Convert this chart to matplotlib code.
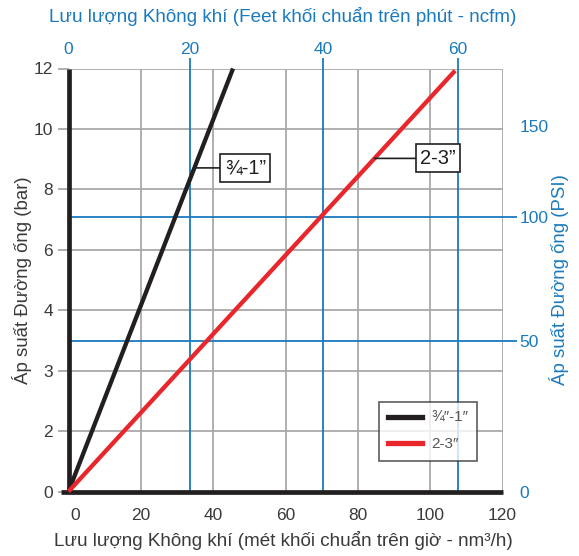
import matplotlib
matplotlib.use('Agg')
import matplotlib.pyplot as plt
import numpy as np
from matplotlib.transforms import ScaledTranslation
from matplotlib.lines import Line2D

FONT = ['Liberation Sans', 'DejaVu Sans']
NARROW = ['Liberation Sans Narrow', 'Liberation Sans', 'DejaVu Sans']
plt.rcParams['font.family'] = FONT

# ---------------- data ----------------
flow_ticks = [0, 20, 40, 60, 80, 100, 120]            # nm3/h (bottom)
pressure_tick_labels = ['0', '2', '3', '4', '6', '8', '10', '12']  # bar (left)
ncfm_labels = ['0', '20', '40', '60']                 # top axis labels
ncfm_pos = [0, 33.5, 70.4, 107.7]                     # position on nm3/h scale
psi_labels = ['0', '50', '100', '150']                # right axis labels
psi_pos = [0, 4.28, 7.80, 10.37]                      # position on bar scale
series_names = ['¾″-1″', '2-3″']
box_names = ['¾-1”', '2-3”']
small_flow = [0, 45.5]
small_pressure = [0, 12]
large_flow = [0, 106.9]
large_pressure = [0, 11.94]

BLACK = '#231f20'
RED = '#e8262b'
BLUE = '#1a7abf'
GRID = '#a9a9a9'
TXT = '#3a3a3a'

fig = plt.figure(figsize=(5.79, 5.56), dpi=100)
ax = fig.add_axes([68.5 / 579, 1 - 491.5 / 556, 434 / 579, 423 / 556])
ax.set_xlim(0, 120)
ax.set_ylim(0, 12)

ytick_pos = np.linspace(0, 12, len(pressure_tick_labels))
ax.set_yticks(ytick_pos, pressure_tick_labels, fontfamily=NARROW)
ax.set_xticks(flow_ticks, [str(v) for v in flow_ticks], fontfamily=NARROW)
ax.tick_params(axis='x', length=0, pad=12, labelsize=12.5, labelcolor=TXT)
ax.tick_params(axis='y', length=8, width=1.3, color=GRID, pad=3, labelsize=12.5, labelcolor=TXT)

# shift the bottom "0" label slightly right as in reference
t0 = ax.xaxis.get_major_ticks()[0]
t0.label1.set_transform(t0.label1.get_transform() + ScaledTranslation(7 / 100, 0, fig.dpi_scale_trans))

# grids
for x in flow_ticks[1:]:
    ax.axvline(x, color=GRID, lw=1.3, zorder=1)
for y in ytick_pos[1:]:
    ax.axhline(y, color=GRID, lw=1.3, zorder=1)
for x in ncfm_pos[1:]:
    ax.axvline(x, color=BLUE, lw=1.3, zorder=1.5)
for y in psi_pos[1:3]:
    ax.axhline(y, color=BLUE, lw=1.3, zorder=1.5)

for s in ['top', 'right', 'bottom']:
    ax.spines[s].set_visible(False)
ax.spines['left'].set_linewidth(3.4)
ax.spines['left'].set_color(BLACK)
ax.spines['left'].set_capstyle('butt')
ax.plot([-0.018, 1.0], [0, 0], transform=ax.transAxes, color=BLACK, lw=3.4,
        clip_on=False, solid_capstyle='butt', zorder=3)

# series
ax.plot(small_flow, small_pressure, color=BLACK, lw=3.1, solid_capstyle='butt', zorder=4, clip_on=False)
ax.plot(large_flow, large_pressure, color=RED, lw=3.1, solid_capstyle='butt', zorder=4.5, clip_on=False)

# callout boxes
def callout(flow, pres, label, y_lab, x_box):
    x_line = flow[1] * y_lab / pres[1]
    ax.annotate(label, xy=(x_line, y_lab), xytext=(x_box, y_lab), ha='center', va='center',
                fontsize=14.5, color=BLACK, zorder=6,
                bbox=dict(boxstyle='square,pad=0.22', fc='white', ec=BLACK, lw=1.2),
                arrowprops=dict(arrowstyle='-', color=BLACK, lw=1.2, shrinkA=0, shrinkB=0))

callout(small_flow, small_pressure, box_names[0], 9.18, 48.9)
callout(large_flow, large_pressure, box_names[1], 9.45, 102.2)

# legend
handles = [Line2D([], [], color=BLACK, lw=3.8), Line2D([], [], color=RED, lw=3.8)]
leg = ax.legend(handles, series_names, loc='upper left',
                bbox_to_anchor=((379 - 68.5) / 434, (491.5 - 402) / 423), borderaxespad=0,
                fontsize=11, labelcolor='#555555', frameon=True, fancybox=False,
                handlelength=2.2, handletextpad=0.6, labelspacing=0.8, borderpad=0.6)
leg.get_frame().set_edgecolor('#333333')
leg.get_frame().set_linewidth(1.2)
leg.set_zorder(7)

# top axis (ncfm)
ax_top = ax.twiny()
ax_top.set_xlim(0, 120)
ax_top.set_xticks(ncfm_pos, ncfm_labels, fontfamily=NARROW)
ax_top.tick_params(axis='x', colors=BLUE, length=8, width=1.3, pad=0, labelsize=12.5)
ax_top.xaxis.get_major_ticks()[0].tick2line.set_visible(False)
for s in ax_top.spines.values():
    s.set_visible(False)

# right axis (PSI)
ax_r = ax.twinx()
ax_r.set_ylim(0, 12)
ax_r.set_yticks(psi_pos, psi_labels, fontfamily=NARROW)
ax_r.tick_params(axis='y', colors=BLUE, length=10, width=1.3, pad=2, labelsize=12.5)
rt = ax_r.yaxis.get_major_ticks()
rt[0].tick2line.set_visible(False)
rt[3].tick2line.set_visible(False)
for s in ax_r.spines.values():
    s.set_visible(False)

# axis titles
fig.text(283 / 579, 1 - 17 / 556, 'Lưu lượng Không khí (Feet khối chuẩn trên phút - ncfm)',
         ha='center', va='center', fontsize=13.6, color=BLUE)
fig.text(283 / 579, 1 - 541 / 556, 'Lưu lượng Không khí (mét khối chuẩn trên giờ - nm³/h)',
         ha='center', va='center', fontsize=13.6, color=TXT)
fig.text(22 / 579, 1 - 280 / 556, 'Áp suất Đường ống (bar)', rotation=90,
         ha='center', va='center', fontsize=13.4, color=TXT)
fig.text(559 / 579, 1 - 280 / 556, 'Áp suất Đường ống (PSI)', rotation=90,
         ha='center', va='center', fontsize=13.4, color=BLUE)

fig.savefig('out.png', dpi=100)
